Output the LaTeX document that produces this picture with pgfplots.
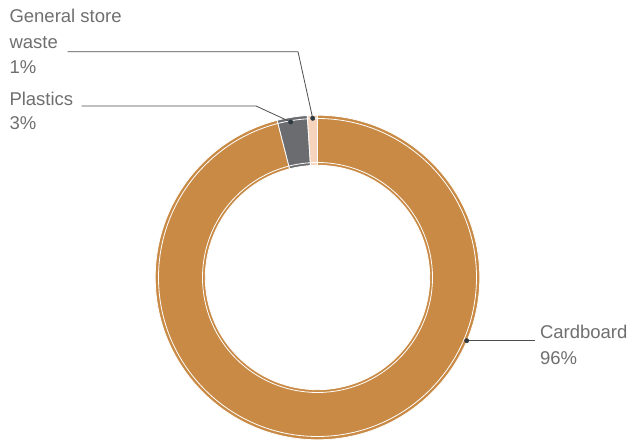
\documentclass[border=0pt]{standalone}
\usepackage{pgfplots}
\pgfplotsset{compat=1.18}
\usepackage{pgfplotstable}
\usepackage{fontspec}
\setmainfont{Liberation Sans}
\definecolor{cardboard}{HTML}{C98A45}
\definecolor{plastics}{HTML}{6B6C70}
\definecolor{general}{HTML}{F6D3BD}
\definecolor{txt}{HTML}{6F6F6F}
\definecolor{lead}{HTML}{4D4D4D}
\definecolor{dot}{HTML}{2E3A40}
\pgfplotstableread{
name value
Cardboard 96
Plastics 3
General 1
}\shares
\pgfplotstablegetelem{0}{value}\of\shares\let\vA\pgfplotsretval
\pgfplotstablegetelem{1}{value}\of\shares\let\vB\pgfplotsretval
\pgfplotstablegetelem{2}{value}\of\shares\let\vC\pgfplotsretval
\pgfmathsetmacro\aA{90}
\pgfmathsetmacro\aB{90-3.6*\vA}
\pgfmathsetmacro\aC{\aB-3.6*\vB}
\pgfmathsetmacro\aD{\aC-3.6*\vC}
\newcommand\sector[3]{%
 \fill[#3, draw=white, line width=0.8bp] (axis cs:{317.5+162.3*cos(#1)},{163.5+162.3*sin(#1)}) arc[start angle=#1, end angle=#2, radius=162.3bp] -- (axis cs:{317.5+112.2*cos(#2)},{163.5+112.2*sin(#2)}) arc[start angle=#2, end angle=#1, radius=112.2bp] -- cycle;}
\tikzset{lbl/.style={font=\fontsize{18.5bp}{22bp}\selectfont, text=txt, inner sep=0pt, outer sep=0pt, anchor=base west}}
\begin{document}
\begin{tikzpicture}
\begin{axis}[scale only axis, width=632bp, height=441bp,
  xmin=0, xmax=632, ymin=0, ymax=441, hide axis, clip=false]
\path (axis cs:0,0) rectangle (axis cs:632,441);
\sector{\aA}{\aB}{cardboard}
\sector{\aB}{\aC}{plastics}
\sector{\aC}{\aD}{general}
\draw[white, line width=0.8bp] (axis cs:317.5,163.5) circle[radius=159bp];
\draw[white, line width=0.8bp] (axis cs:317.5,163.5) circle[radius=115bp];
\addplot[lead, line width=0.8bp] coordinates {(67.7,389.3) (298,389.3) (312.7,322.7)};
\addplot[lead, line width=0.8bp] coordinates {(81.7,335) (256,335) (290.7,319)};
\addplot[lead, line width=0.8bp] coordinates {(466.7,100.3) (535,100.3)};
\addplot[only marks, mark=*, mark size=2.2bp, dot, mark options={draw=dot, fill=dot}] coordinates {(312.7,322.7) (290.7,319) (466.7,100.3)};
\node[lbl] at (axis cs:9.5,418.3) {General store};
\node[lbl] at (axis cs:9.5,392.7) {waste};
\node[lbl] at (axis cs:9.5,367) {1\%};
\node[lbl] at (axis cs:9.5,335) {Plastics};
\node[lbl] at (axis cs:9.5,311) {3\%};
\node[lbl] at (axis cs:540,102.7) {Cardboard};
\node[lbl] at (axis cs:540,76) {96\%};
\end{axis}
\end{tikzpicture}
\end{document}
